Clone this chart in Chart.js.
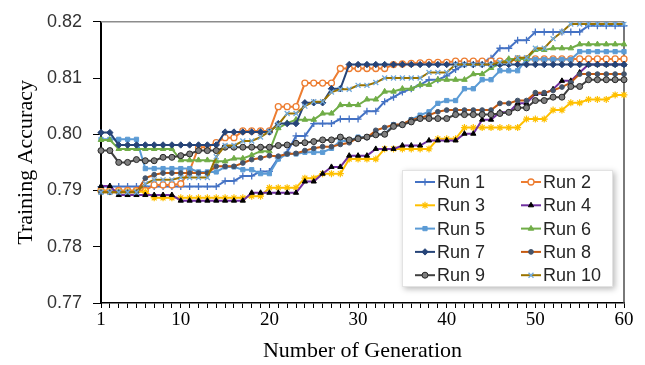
<!DOCTYPE html>
<html>
<head>
<meta charset="utf-8">
<script src="https://cdn.jsdelivr.net/npm/chart.js@4.4.1/dist/chart.umd.min.js"></script>
<style>
  html, body { margin: 0; padding: 0; background: #ffffff; }
  #wrap { width: 645px; height: 365px; position: relative; }
</style>
</head>
<body>
<div id="wrap"><canvas id="chart" width="645" height="365"></canvas></div>
<script>
// Generations on the horizontal axis
const generations = [1,2,3,4,5,6,7,8,9,10,11,12,13,14,15,16,17,18,19,20,
  21,22,23,24,25,26,27,28,29,30,31,32,33,34,35,36,37,38,39,40,
  41,42,43,44,45,46,47,48,49,50,51,52,53,54,55,56,57,58,59,60];
// Generations that carry a printed label
const tickLabels = [1, 10, 20, 30, 40, 50, 60];
// Accuracy ticks
const yTicks = [0.77, 0.78, 0.79, 0.80, 0.81, 0.82];
const seriesNames = ['Run 1','Run 2','Run 3','Run 4','Run 5','Run 6','Run 7','Run 8','Run 9','Run 10'];

// Best training accuracy per generation, one list per run
const run1 = [0.7907,0.7907,0.7907,0.7907,0.7907,0.7907,0.7907,0.7907,0.7907,0.7907,
  0.7907,0.7907,0.7907,0.7907,0.7917,0.7917,0.7926,0.7926,0.7934,0.7934,
  0.7958,0.7968,0.7997,0.7997,0.8019,0.8019,0.8019,0.8027,0.8027,0.8027,
  0.8041,0.8041,0.8058,0.8066,0.8075,0.8081,0.8088,0.8097,0.8097,0.8104,
  0.8115,0.8124,0.8124,0.8128,0.8135,0.8153,0.8153,0.8167,0.8167,0.8182,
  0.8182,0.8182,0.8182,0.8182,0.8182,0.8193,0.8193,0.8193,0.8193,0.8193];
const run2 = [0.7900,0.7900,0.7900,0.7900,0.7900,0.7900,0.7910,0.7910,0.7910,0.7912,
  0.7935,0.7977,0.7977,0.7985,0.7994,0.7994,0.8006,0.8006,0.8006,0.8006,
  0.8049,0.8049,0.8049,0.8091,0.8091,0.8091,0.8091,0.8117,0.8117,0.8117,
  0.8117,0.8117,0.8117,0.8124,0.8125,0.8126,0.8127,0.8128,0.8128,0.8128,
  0.8130,0.8130,0.8130,0.8130,0.8130,0.8130,0.8130,0.8134,0.8134,0.8134,
  0.8134,0.8134,0.8134,0.8134,0.8134,0.8134,0.8134,0.8134,0.8134,0.8134];
const run3 = [0.7898,0.7898,0.7898,0.7898,0.7898,0.7898,0.7887,0.7887,0.7887,0.7887,
  0.7887,0.7887,0.7887,0.7887,0.7887,0.7887,0.7887,0.7890,0.7890,0.7905,
  0.7905,0.7905,0.7905,0.7922,0.7922,0.7930,0.7930,0.7930,0.7956,0.7956,
  0.7956,0.7956,0.7974,0.7974,0.7974,0.7974,0.7974,0.7974,0.7992,0.7992,
  0.7992,0.8012,0.8012,0.8012,0.8012,0.8012,0.8012,0.8012,0.8027,0.8027,
  0.8027,0.8043,0.8043,0.8056,0.8056,0.8062,0.8062,0.8062,0.8070,0.8070];
const run4 = [0.7908,0.7908,0.7892,0.7892,0.7892,0.7892,0.7892,0.7892,0.7892,0.7882,
  0.7882,0.7882,0.7882,0.7882,0.7882,0.7882,0.7882,0.7896,0.7896,0.7896,
  0.7896,0.7896,0.7896,0.7916,0.7916,0.7930,0.7942,0.7942,0.7962,0.7962,
  0.7962,0.7974,0.7974,0.7974,0.7980,0.7980,0.7980,0.7989,0.7989,0.7989,
  0.7989,0.8001,0.8001,0.8026,0.8026,0.8039,0.8039,0.8055,0.8055,0.8072,
  0.8072,0.8080,0.8095,0.8095,0.8110,0.8124,0.8124,0.8124,0.8124,0.8124];
const run5 = [0.7991,0.7991,0.7991,0.7991,0.7991,0.7939,0.7939,0.7939,0.7939,0.7939,
  0.7939,0.7933,0.7933,0.7933,0.7942,0.7942,0.7937,0.7937,0.7930,0.7930,
  0.7956,0.7965,0.7965,0.7968,0.7968,0.7968,0.7975,0.7988,0.7988,0.7995,
  0.7995,0.8000,0.8000,0.8017,0.8017,0.8026,0.8034,0.8040,0.8055,0.8060,
  0.8060,0.8081,0.8081,0.8097,0.8097,0.8113,0.8113,0.8113,0.8133,0.8133,
  0.8133,0.8133,0.8133,0.8133,0.8147,0.8147,0.8147,0.8147,0.8147,0.8147];
const run6 = [0.7990,0.7990,0.7974,0.7974,0.7974,0.7974,0.7974,0.7974,0.7974,0.7954,
  0.7954,0.7954,0.7954,0.7952,0.7952,0.7957,0.7957,0.7963,0.7970,0.7970,
  0.8011,0.8020,0.8026,0.8026,0.8026,0.8037,0.8037,0.8052,0.8052,0.8052,
  0.8062,0.8062,0.8076,0.8076,0.8081,0.8081,0.8088,0.8088,0.8097,0.8097,
  0.8097,0.8097,0.8107,0.8107,0.8118,0.8125,0.8134,0.8134,0.8134,0.8150,
  0.8150,0.8153,0.8153,0.8153,0.8160,0.8160,0.8160,0.8160,0.8160,0.8160];
const run7 = [0.8003,0.8003,0.7981,0.7981,0.7981,0.7981,0.7981,0.7981,0.7981,0.7981,
  0.7981,0.7981,0.7981,0.7981,0.8004,0.8004,0.8004,0.8004,0.8004,0.8004,
  0.8019,0.8019,0.8019,0.8056,0.8056,0.8056,0.8081,0.8081,0.8124,0.8124,
  0.8124,0.8124,0.8124,0.8124,0.8124,0.8124,0.8124,0.8124,0.8124,0.8124,
  0.8124,0.8124,0.8124,0.8124,0.8124,0.8124,0.8124,0.8124,0.8124,0.8124,
  0.8124,0.8124,0.8124,0.8124,0.8124,0.8124,0.8124,0.8124,0.8124,0.8124];
const run8 = [0.7897,0.7897,0.7897,0.7897,0.7897,0.7922,0.7928,0.7931,0.7931,0.7931,
  0.7931,0.7931,0.7931,0.7943,0.7943,0.7943,0.7949,0.7955,0.7958,0.7962,
  0.7961,0.7965,0.7966,0.7971,0.7975,0.7978,0.7978,0.7982,0.7985,0.7994,
  0.7994,0.8007,0.8012,0.8017,0.8018,0.8026,0.8029,0.8034,0.8040,0.8043,
  0.8043,0.8043,0.8043,0.8043,0.8043,0.8055,0.8055,0.8060,0.8060,0.8074,
  0.8074,0.8078,0.8084,0.8092,0.8107,0.8107,0.8107,0.8107,0.8107,0.8107];
const run9 = [0.7971,0.7971,0.7950,0.7950,0.7955,0.7953,0.7953,0.7959,0.7959,0.7962,
  0.7965,0.7971,0.7971,0.7971,0.7977,0.7977,0.7977,0.7977,0.7977,0.7977,
  0.7980,0.7981,0.7984,0.7985,0.7987,0.7990,0.7990,0.7995,0.7990,0.7992,
  0.7995,0.7999,0.8000,0.8014,0.8017,0.8022,0.8028,0.8028,0.8028,0.8028,
  0.8035,0.8035,0.8035,0.8035,0.8035,0.8037,0.8039,0.8047,0.8047,0.8060,
  0.8060,0.8066,0.8066,0.8085,0.8085,0.8097,0.8097,0.8097,0.8097,0.8097];
const run10 = [0.7897,0.7897,0.7897,0.7897,0.7897,0.7912,0.7919,0.7919,0.7919,0.7923,
  0.7923,0.7923,0.7923,0.7960,0.7980,0.7980,0.7988,0.7988,0.7995,0.8005,
  0.8017,0.8037,0.8037,0.8050,0.8058,0.8058,0.8075,0.8080,0.8080,0.8087,
  0.8087,0.8092,0.8100,0.8100,0.8100,0.8100,0.8100,0.8110,0.8110,0.8110,
  0.8124,0.8124,0.8124,0.8124,0.8124,0.8128,0.8128,0.8136,0.8136,0.8153,
  0.8153,0.8170,0.8182,0.8196,0.8196,0.8196,0.8196,0.8196,0.8196,0.8196];

const seriesValues = [run1, run2, run3, run4, run5, run6, run7, run8, run9, run10];

// Line colour and marker look for each run
const styles = [
  { line: '#4472C4', point: 'cross',    fill: '#4472C4', edge: '#4472C4', r: 3.5, w: 1.3 },
  { line: '#ED7D31', point: 'circle',   fill: '#ffffff', edge: '#ED7D31', r: 3,   w: 1.3 },
  { line: '#FFC000', point: 'star',     fill: '#FFC000', edge: '#FFC000', r: 3.5, w: 1.2 },
  { line: '#7030A0', point: 'triangle', fill: '#000000', edge: '#000000', r: 3,   w: 1 },
  { line: '#5B9BD5', point: 'rect',     fill: '#5B9BD5', edge: '#5B9BD5', r: 3,   w: 1 },
  { line: '#70AD47', point: 'triangle', fill: '#70AD47', edge: '#70AD47', r: 3.2, w: 1 },
  { line: '#264478', point: 'rectRot',  fill: '#264478', edge: '#264478', r: 3.2, w: 1 },
  { line: '#C55A11', point: 'circle',   fill: '#44546A', edge: '#44546A', r: 2.4, w: 1 },
  { line: '#404040', point: 'circle',   fill: '#7F7F7F', edge: '#262626', r: 3,   w: 1 },
  { line: '#997300', point: 'crossRot', fill: '#5B9BD5', edge: '#6FA8DC', r: 3.5, w: 1.3 }
];

const datasets = seriesNames.map((name, i) => ({
  label: name,
  data: seriesValues[i],
  borderColor: styles[i].line,
  backgroundColor: styles[i].line,
  borderWidth: 2,
  pointStyle: styles[i].point,
  pointRadius: styles[i].r,
  pointHoverRadius: styles[i].r,
  pointBackgroundColor: styles[i].fill,
  pointBorderColor: styles[i].edge,
  pointBorderWidth: styles[i].w,
  tension: 0,
  order: seriesNames.length - i
}));

// Grey top edge and dark right edge of the plot box
const plotFrame = {
  id: 'plotFrame',
  beforeDatasetsDraw(chart) {
    const { ctx, chartArea: a } = chart;
    ctx.save();
    ctx.lineWidth = 1.5;
    ctx.strokeStyle = '#8c8c8c';
    ctx.beginPath();
    ctx.moveTo(a.left, a.top);
    ctx.lineTo(a.right, a.top);
    ctx.stroke();
    ctx.strokeStyle = '#4d4d4d';
    ctx.beginPath();
    ctx.moveTo(a.right, a.top);
    ctx.lineTo(a.right, a.bottom);
    ctx.stroke();
    ctx.restore();
  }
};

// Two-column legend box drawn inside the plot
const boxLegend = {
  id: 'boxLegend',
  afterDraw(chart) {
    const { ctx } = chart;
    const box = { x: 402, y: 170, w: 211, h: 117 };
    ctx.save();
    ctx.shadowColor = 'rgba(0,0,0,0.28)';
    ctx.shadowBlur = 6;
    ctx.shadowOffsetX = 2;
    ctx.shadowOffsetY = 2;
    ctx.fillStyle = '#ffffff';
    ctx.fillRect(box.x, box.y, box.w, box.h);
    ctx.restore();
    ctx.save();
    ctx.strokeStyle = '#e3e3e3';
    ctx.lineWidth = 1;
    ctx.strokeRect(box.x + 0.5, box.y + 0.5, box.w - 1, box.h - 1);
    const colX = [415, 521];
    const rowY0 = 182, rowStep = 23.3;
    chart.data.datasets.forEach((ds, i) => {
      const lx = colX[i % 2];
      const ly = rowY0 + Math.floor(i / 2) * rowStep;
      ctx.strokeStyle = ds.borderColor;
      ctx.lineWidth = 2;
      ctx.beginPath();
      ctx.moveTo(lx, ly);
      ctx.lineTo(lx + 20, ly);
      ctx.stroke();
      ctx.fillStyle = ds.pointBackgroundColor;
      ctx.strokeStyle = ds.pointBorderColor;
      ctx.lineWidth = ds.pointBorderWidth;
      const opts = { pointStyle: ds.pointStyle, radius: ds.pointRadius, borderWidth: ds.pointBorderWidth, rotation: 0 };
      if (Chart.helpers && Chart.helpers.drawPoint) {
        Chart.helpers.drawPoint(ctx, opts, lx + 10, ly);
      } else {
        ctx.beginPath();
        ctx.arc(lx + 10, ly, ds.pointRadius, 0, Math.PI * 2);
        ctx.fill();
        ctx.stroke();
      }
      ctx.fillStyle = '#262626';
      ctx.font = '18px "Liberation Sans", Arial, sans-serif';
      ctx.textAlign = 'left';
      ctx.textBaseline = 'middle';
      ctx.fillText(ds.label, lx + 22, ly + 1);
    });
    ctx.restore();
  }
};

new Chart(document.getElementById('chart'), {
  type: 'line',
  data: { labels: generations, datasets },
  options: {
    responsive: false,
    animation: false,
    devicePixelRatio: 1,
    layout: { padding: { top: 14, right: 21, left: 0, bottom: 0 } },
    plugins: { legend: { display: false }, tooltip: { enabled: false } },
    scales: {
      x: {
        type: 'category',
        offset: false,
        grid: { display: true, drawOnChartArea: false, drawTicks: true, tickLength: 5, color: '#000000', lineWidth: 1, offset: false },
        border: { display: true, color: '#000000', width: 1.5 },
        ticks: {
          autoSkip: false,
          maxRotation: 0,
          minRotation: 0,
          padding: 1,
          color: '#000000',
          font: { family: '"Liberation Serif", "Times New Roman", serif', size: 19 },
          callback(value) {
            const g = generations[value];
            return tickLabels.includes(g) ? String(g) : '';
          }
        },
        title: {
          display: true,
          text: 'Number of Generation',
          color: '#000000',
          font: { family: '"Liberation Serif", "Times New Roman", serif', size: 22 },
          padding: { top: 0, bottom: 1 }
        },
        afterFit(scale) { scale.height = 62; }
      },
      y: {
        type: 'linear',
        min: yTicks[0],
        max: yTicks[yTicks.length - 1],
        afterBuildTicks(scale) { scale.ticks = yTicks.map(v => ({ value: v })); },
        grid: { display: true, drawOnChartArea: false, drawTicks: true, tickLength: 8, color: '#000000', lineWidth: 1 },
        border: { display: true, color: '#000000', width: 2 },
        ticks: {
          padding: 11,
          color: '#333333',
          font: { family: '"Liberation Sans", Arial, sans-serif', size: 18 },
          callback(value) { return Number(value).toFixed(2); }
        },
        title: {
          display: true,
          text: 'Training Accuracy',
          color: '#000000',
          font: { family: '"Liberation Serif", "Times New Roman", serif', size: 22 },
          padding: { top: 13, bottom: 0 }
        },
        afterFit(scale) { scale.width = 101; }
      }
    }
  },
  plugins: [plotFrame, boxLegend]
});
</script>
</body>
</html>
